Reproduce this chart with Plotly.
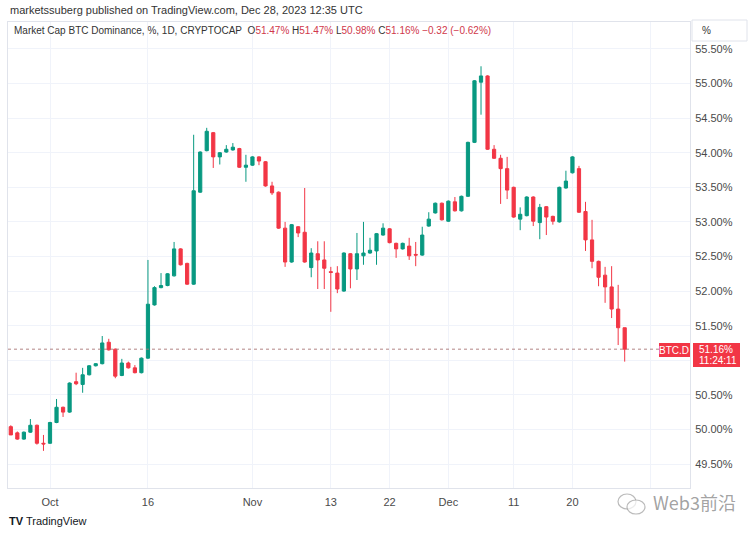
import plotly.graph_objects as go
import pandas as pd

# ---- data ----
dates = pd.date_range("2023-09-24", "2023-12-28", freq="D")

opens = [50.04, 50.04, 49.95, 49.86, 49.96, 50.06, 49.80,
         49.80, 50.10, 50.32, 50.25, 50.69, 50.65, 50.79, 50.92, 50.95, 51.26,
         51.16, 50.78, 50.96, 50.89, 50.82, 51.03, 51.80, 52.05, 52.08, 52.22,
         52.61, 52.40, 52.10, 53.43, 54.03, 54.29, 53.94, 54.01, 54.04, 54.06, 53.79,
         53.82, 53.94, 53.87, 53.52, 53.43, 52.91, 52.42, 52.93, 52.85, 52.34,
         52.54, 52.45, 52.28, 52.26, 52.00, 52.54, 52.32, 52.51, 52.55, 52.58,
         52.81, 52.90, 52.69, 52.61, 52.65, 52.53, 52.52, 52.94, 53.13, 53.27,
         53.01, 53.29, 53.16, 53.37, 54.15, 55.02, 55.11, 54.05, 53.92, 53.77,
         53.50, 53.04, 53.09, 53.36, 52.99, 53.22, 53.08, 53.00, 53.49, 53.71,
         53.77, 53.15, 52.74, 52.43, 52.23, 52.06, 51.74, 51.47]
highs = [50.10, 50.06, 49.97, 49.97, 50.15, 50.07, 49.92,
         50.11, 50.44, 50.33, 50.68, 50.82, 50.89, 50.93, 50.96, 51.35, 51.31,
         51.17, 51.02, 50.98, 50.93, 51.04, 52.45, 52.07, 52.26, 52.26, 52.71,
         52.62, 52.41, 54.26, 54.02, 54.36, 54.30, 54.01, 54.11, 54.14, 54.07, 53.97,
         53.95, 53.95, 53.88, 53.58, 53.44, 53.00, 52.97, 52.94, 53.49, 52.62,
         52.72, 52.72, 52.35, 52.36, 52.56, 52.55, 52.84, 53.00, 52.77, 52.84,
         52.98, 52.91, 52.70, 52.70, 52.77, 52.71, 52.93, 53.14, 53.28, 53.28,
         53.31, 53.36, 53.38, 54.16, 55.05, 55.25, 55.12, 54.11, 53.97, 53.94,
         53.51, 53.21, 53.37, 53.37, 53.26, 53.23, 53.09, 53.51, 53.74, 53.95,
         53.81, 53.29, 53.03, 52.44, 52.35, 52.36, 52.09, 51.47]
lows = [49.99, 49.92, 49.85, 49.85, 49.95, 49.78, 49.69,
        49.79, 50.09, 50.18, 50.24, 50.64, 50.53, 50.78, 50.91, 50.94, 51.14,
        50.74, 50.77, 50.88, 50.81, 50.81, 51.02, 51.79, 52.04, 52.07, 52.21,
        52.37, 52.09, 52.09, 53.42, 54.02, 53.78, 53.83, 54.00, 54.03, 53.78, 53.58,
        53.81, 53.82, 53.51, 53.39, 52.90, 52.35, 52.41, 52.78, 52.41, 52.20,
        52.03, 52.03, 51.70, 51.97, 51.99, 52.04, 52.16, 52.38, 52.54, 52.38,
        52.80, 52.69, 52.48, 52.60, 52.45, 52.36, 52.51, 52.93, 53.12, 53.02,
        53.00, 53.15, 53.15, 53.36, 54.14, 54.55, 54.04, 53.91, 53.26, 53.33,
        53.06, 52.88, 53.08, 52.94, 52.75, 52.81, 52.96, 52.99, 53.48, 53.70,
        53.13, 52.58, 52.33, 52.07, 51.83, 51.61, 51.22, 50.98]
closes = [50.04, 49.92, 49.86, 49.96, 50.06, 49.80, 49.79,
          50.10, 50.32, 50.25, 50.67, 50.66, 50.79, 50.92, 50.95, 51.25, 51.15,
          50.77, 50.96, 50.89, 50.82, 51.03, 51.81, 52.05, 52.08, 52.25, 52.61,
          52.38, 52.10, 53.45, 54.01, 54.31, 53.94, 54.00, 54.05, 54.08, 53.79, 53.82,
          53.94, 53.88, 53.52, 53.42, 52.91, 52.42, 52.96, 52.84, 52.42, 52.55,
          52.45, 52.33, 52.27, 52.03, 52.55, 52.32, 52.54, 52.55, 52.59, 52.83,
          52.91, 52.70, 52.61, 52.69, 52.51, 52.52, 52.81, 53.04, 53.27, 53.03,
          53.30, 53.16, 53.37, 54.15, 55.04, 55.11, 54.05, 53.92, 53.77, 53.46,
          53.07, 53.11, 53.36, 53.01, 53.21, 53.07, 53.01, 53.50, 53.59, 53.94,
          53.14, 52.74, 52.43, 52.20, 52.06, 51.74, 51.47, 51.16]

x_tick_dates = ["2023-10-01", "2023-10-16", "2023-11-01", "2023-11-13",
                "2023-11-22", "2023-12-01", "2023-12-11", "2023-12-20", "2024-01-01"]
x_tick_labels = ["Oct", "16", "Nov", "13", "22", "Dec", "11", "20", ""]
y_tick_values = [49.5, 50.0, 50.5, 51.0, 51.5, 52.0, 52.5, 53.0, 53.5, 54.0, 54.5, 55.0, 55.5]
y_tick_labels = ["49.50%", "50.00%", "50.50%", "", "51.50%", "52.00%", "52.50%",
                 "53.00%", "53.50%", "54.00%", "54.50%", "55.00%", "55.50%"]
last_price = 51.16

# ---- style ----
UP = "#089981"
DOWN = "#F23645"
GRID = "#f0f3fa"
TXT = "#4a4a4a"
FONT = "Liberation Sans"

W, H = 750, 534
L, R, T, B = 8, 60, 22, 46
PW, PH = W - L - R, H - T - B


def px(x):
    """window x pixel -> paper x"""
    return (x - L) / PW


def py(y):
    """window y pixel -> paper y"""
    return (H - B - y) / PH


fig = go.Figure(go.Candlestick(
    x=dates, open=opens, high=highs, low=lows, close=closes,
    increasing=dict(line=dict(color=UP, width=1), fillcolor=UP),
    decreasing=dict(line=dict(color=DOWN, width=1), fillcolor=DOWN),
    whiskerwidth=0, showlegend=False, hoverinfo="skip",
))

fig.update_layout(
    width=W, height=H,
    margin=dict(l=L, r=R, t=T, b=B),
    paper_bgcolor="white", plot_bgcolor="white",
    font=dict(family=FONT, size=11, color=TXT),
    showlegend=False,
    xaxis=dict(
        type="date",
        range=["2023-09-24 13:40", "2024-01-07 00:00"],
        tickvals=x_tick_dates, ticktext=x_tick_labels,
        showgrid=True, gridcolor=GRID, gridwidth=1,
        zeroline=False, ticks="", rangeslider=dict(visible=False),
        showline=True, linecolor="#e0e3eb", mirror=True,
        tickfont=dict(size=11, color=TXT),
        ticklabelstandoff=4,
        fixedrange=True,
    ),
    yaxis=dict(
        side="right",
        range=[49.153, 55.89],
        tickvals=y_tick_values, ticktext=y_tick_labels,
        showgrid=True, gridcolor=GRID, gridwidth=1,
        zeroline=False, ticks="",
        showline=True, linecolor="#e0e3eb", mirror=True,
        tickfont=dict(size=11, color=TXT),
        ticklabelstandoff=2,
        fixedrange=True,
    ),
)

shapes = [
    # last price dotted line
    dict(type="line", xref="paper", yref="y", x0=0, x1=1, y0=last_price, y1=last_price,
         line=dict(color="rgba(170,120,120,0.9)", width=1, dash="dot")),
    # price label on the axis
    dict(type="rect", xref="paper", yref="paper", x0=px(693), x1=px(740),
         y0=py(367), y1=py(343), fillcolor=DOWN, line=dict(width=0)),
    # symbol label
    dict(type="rect", xref="paper", yref="paper", x0=px(659), x1=px(690),
         y0=py(357), y1=py(343), fillcolor=DOWN, line=dict(width=0)),
    # "%" box
    dict(type="rect", xref="paper", yref="paper", x0=px(692), x1=px(747),
         y0=py(41), y1=py(20), fillcolor="white", line=dict(color="#e0e3eb", width=1)),
    # watermark icon (two bubbles)
    dict(type="circle", xref="paper", yref="paper", x0=px(618), x1=px(636),
         y0=py(509), y1=py(494), line=dict(color="rgba(140,140,140,0.6)", width=1.2)),
    dict(type="circle", xref="paper", yref="paper", x0=px(627), x1=px(645),
         y0=py(514), y1=py(500), fillcolor="rgba(255,255,255,0.7)",
         line=dict(color="rgba(140,140,140,0.6)", width=1.2)),
]
fig.update_layout(shapes=shapes)

red_txt = "#d0384b"
legend_html = (
    "Market Cap BTC Dominance, %, 1D, CRYPTOCAP&nbsp;&nbsp;"
    f"O<span style='color:{red_txt}'>51.47%</span> "
    f"H<span style='color:{red_txt}'>51.47%</span> "
    f"L<span style='color:{red_txt}'>50.98%</span> "
    f"C<span style='color:{red_txt}'>51.16%</span> "
    f"<span style='color:{red_txt}'>\u22120.32 (\u22120.62%)</span>"
)

annotations = [
    dict(text="marketssuberg published on TradingView.com, Dec 28, 2023 12:35 UTC",
         xref="paper", yref="paper", x=px(8), y=py(10), xanchor="left", yanchor="middle",
         showarrow=False, font=dict(size=11, color="#333333")),
    dict(text=legend_html,
         xref="paper", yref="paper", x=px(12), y=py(30), xanchor="left", yanchor="middle",
         showarrow=False, font=dict(size=10, color="#333333")),
    dict(text="%", xref="paper", yref="paper", x=px(706), y=py(30), xanchor="center",
         yanchor="middle", showarrow=False, font=dict(size=10, color="#333333")),
    dict(text="51.16%", xref="paper", yref="paper", x=px(697), y=py(349), xanchor="left",
         yanchor="middle", showarrow=False, font=dict(size=10, color="white")),
    dict(text="11:24:11", xref="paper", yref="paper", x=px(697), y=py(361), xanchor="left",
         yanchor="middle", showarrow=False, font=dict(size=10, color="white")),
    dict(text="BTC.D", xref="paper", yref="paper", x=px(674), y=py(350), xanchor="center",
         yanchor="middle", showarrow=False, font=dict(size=10, color="white")),
    dict(text="<b>TV</b> TradingView", xref="paper", yref="paper", x=px(7), y=py(521),
         xanchor="left", yanchor="middle", showarrow=False,
         font=dict(size=11, color="#131722")),
    dict(text="Web3前沿", xref="paper", yref="paper", x=px(694), y=py(502),
         xanchor="center", yanchor="middle", showarrow=False,
         font=dict(size=18, color="rgba(110,110,110,0.65)", family="Noto Sans CJK SC")),
]
fig.update_layout(annotations=annotations)

# remove the default page margin so the figure sits at the window's top-left corner
fig.write_html("out.html",
               config={"displayModeBar": False},
               post_script="document.body.style.margin='0';document.body.style.overflow='hidden';")
